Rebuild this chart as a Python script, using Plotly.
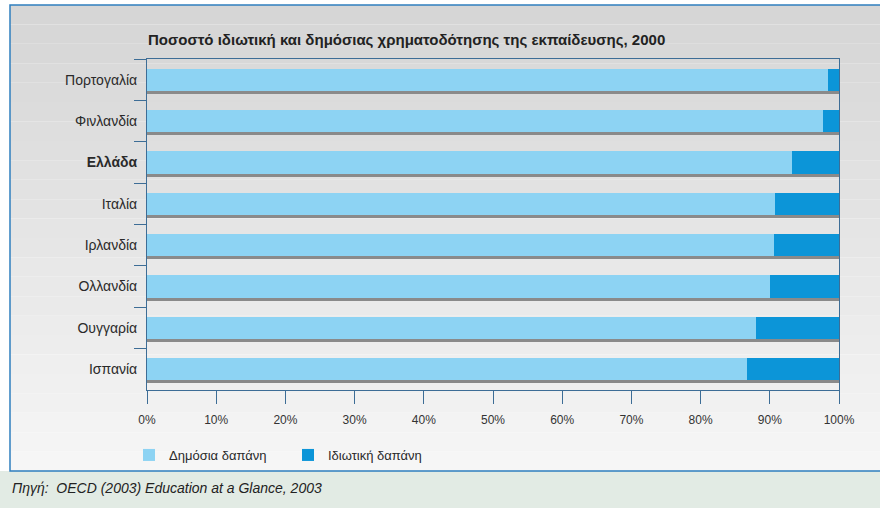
import plotly.graph_objects as go

countries = ["Πορτογαλία", "Φινλανδία", "Ελλάδα", "Ιταλία", "Ιρλανδία", "Ολλανδία", "Ουγγαρία", "Ισπανία"]
public_pct = [98.4, 97.7, 93.2, 90.8, 90.6, 90.0, 88.0, 86.7]
private_pct = [1.6, 2.3, 6.8, 9.2, 9.4, 10.0, 12.0, 13.3]
total_pct = [a + b for a, b in zip(public_pct, private_pct)]

title = "Ποσοστό ιδιωτική και δημόσιας χρηματοδότησης της εκπαίδευσης, 2000"
source = "Πηγή:  OECD (2003) Education at a Glance, 2003"

labels = ["<b>%s</b>" % c if c == "Ελλάδα" else c for c in countries]

W, H = 880, 508
L, R, T, B = 147, 41, 59, 118
pw, ph = W - L - R, H - T - B

def px(x):
  return (x - L) / pw

def py(y):
  return (H - B - y) / ph

FONT = "Liberation Sans, Arial, sans-serif"
AXIS = "#3d6d96"

fig = go.Figure()

# shadow under each bar, on the base axis shifted a few pixels down
fig.add_trace(go.Bar(y=labels, x=total_pct, orientation="h", yaxis="y",
                     marker=dict(color="#8a8a8a", line_width=0),
                     showlegend=False, hoverinfo="skip"))
fig.add_trace(go.Bar(y=labels, x=public_pct, orientation="h", yaxis="y2",
                     name="Δημόσια δαπάνη", marker=dict(color="#8dd3f3", line_width=0)))
fig.add_trace(go.Bar(y=labels, x=private_pct, orientation="h", yaxis="y2",
                     name="Ιδιωτική δαπάνη", marker=dict(color="#0c95d8", line_width=0)))

n = len(countries)
shift = 3 / (ph / n)

# gradient frame background
shapes = []
steps = 24
top, bot = 5, 471
for i in range(steps):
  y0 = top + (bot - top) * i / steps
  y1 = top + (bot - top) * (i + 1) / steps
  g = int(0xd6 + (0xf6 - 0xd6) * i / (steps - 1))
  shapes.append(dict(type="rect", xref="paper", yref="paper", layer="below",
                     x0=px(10), x1=px(W + 5), y0=py(y1), y1=py(y0),
                     fillcolor="rgb(%d,%d,%d)" % (g, g, g), line_width=0))
shapes.append(dict(type="rect", xref="paper", yref="paper", layer="below",
                   x0=px(-5), x1=px(W + 5), y0=py(H + 5), y1=py(bot),
                   fillcolor="#e2ebe4", line_width=0))
shapes.append(dict(type="rect", xref="paper", yref="paper", layer="below",
                   x0=px(10), x1=px(W + 20), y0=py(bot), y1=py(top),
                   fillcolor="rgba(0,0,0,0)", line=dict(color="#2f7fbf", width=1.5)))

fig.update_layout(
  width=W, height=H,
  margin=dict(l=L, r=R, t=T, b=B, pad=0),
  paper_bgcolor="white", plot_bgcolor="white",
  barmode="stack", bargap=0.46,
  font=dict(family=FONT, size=13, color="#2a2a2a"),
  shapes=shapes,
  xaxis=dict(range=[0, 100], dtick=10, ticksuffix="%", showgrid=False, zeroline=False,
             showline=True, mirror=True, linecolor=AXIS, linewidth=1,
             ticks="outside", ticklen=13, tickcolor=AXIS, ticklabelstandoff=6,
             tickfont=dict(size=12, color="#333")),
  yaxis=dict(type="category", range=[n - 0.5 - shift, -0.5 - shift], visible=False,
             fixedrange=True),
  yaxis2=dict(type="category", overlaying="y", side="left", range=[n - 0.5, -0.5],
              showgrid=False, showline=True, mirror=True, linecolor=AXIS, linewidth=1,
              ticks="outside", tickson="boundaries", ticklen=12, tickcolor=AXIS,
              ticklabelstandoff=6, tickfont=dict(size=14, color="#2a2a2a")),
  legend=dict(orientation="h", x=px(129), y=py(440), xanchor="left", yanchor="top",
              traceorder="normal", entrywidth=114, entrywidthmode="pixels",
              bgcolor="rgba(0,0,0,0)", font=dict(size=13, color="#2a2a2a")),
  annotations=[
    dict(text="<b>" + title + "</b>", xref="paper", yref="paper", x=px(146), y=py(39),
         xanchor="left", yanchor="middle", showarrow=False,
         font=dict(size=15, family=FONT, color="#222")),
    dict(text="<i>" + source + "</i>", xref="paper", yref="paper", x=px(10), y=py(488),
         xanchor="left", yanchor="middle", showarrow=False,
         font=dict(size=14, family=FONT, color="#222")),
  ],
)

fig.write_html("out.html", config={"displayModeBar": False},
               post_script="document.body.style.margin='0';")
